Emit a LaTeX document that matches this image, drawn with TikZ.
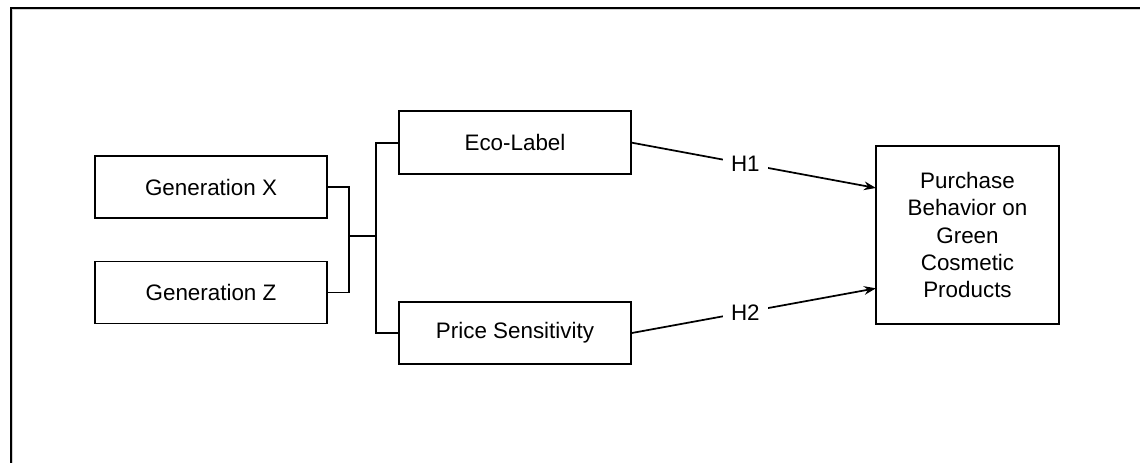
\documentclass[tikz,border=0pt]{standalone}
\usepackage{fontspec}
\setmainfont{Liberation Sans}
\usetikzlibrary{arrows.meta}
\begin{document}
\begin{tikzpicture}[x=0.75pt,y=-0.75pt,
  box/.style={draw, line width=1.3pt, rectangle, inner sep=0pt, align=center,
    font=\fontsize{16.8}{20.4}\selectfont},
  link/.style={line width=1.3pt},
  hyp/.style={line width=1.3pt, -{Stealth[length=9pt,width=6.5pt]}},
  hlabel/.style={fill=white, inner xsep=6pt, inner ysep=2pt, font=\fontsize{16.8}{20}\selectfont}]
\useasboundingbox (0,0) rectangle (1140,463);
% frame (only top and left sides visible)
\draw[gray!35, line width=0.8pt] (1140,9.6) -- (12.6,9.6) -- (12.6,463);
\draw[line width=1.6pt] (1140,7.6) -- (10.8,7.6) -- (10.8,463);
% nodes
\node[box, minimum width=174pt, minimum height=46.5pt] (genx) at (211,187) {Generation X};
\node[box, minimum width=174pt, minimum height=46.5pt] (genz) at (211,292.5) {Generation Z};
\node[box, minimum width=174pt, minimum height=47pt] (eco) at (515,142.7) {Eco-Label};
\node[box, minimum width=174pt, minimum height=46.5pt] (price) at (515,333) {Price Sensitivity};
\node[box, minimum width=137pt, minimum height=133.5pt] (purch) at (967.5,235)
  {Purchase\\Behavior on\\Green\\Cosmetic\\Products};
% junctions
\coordinate (j1) at (349,236);
\coordinate (j2) at (375.7,236);
\coordinate (t1) at (876,188);
\coordinate (t2) at (876,288.3);
% connectors
\draw[link] (genx.east) -| (j1) |- (genz.east);
\draw[link] (j1) -- (j2);
\draw[link] (eco.west) -| (j2) |- (price.west);
\draw[hyp] (eco.east) -- node[hlabel, pos=0.465] (h1) {H1} (t1);
\draw[hyp] (price.east) -- node[hlabel, pos=0.465] (h2) {H2} (t2);
\end{tikzpicture}
\end{document}
